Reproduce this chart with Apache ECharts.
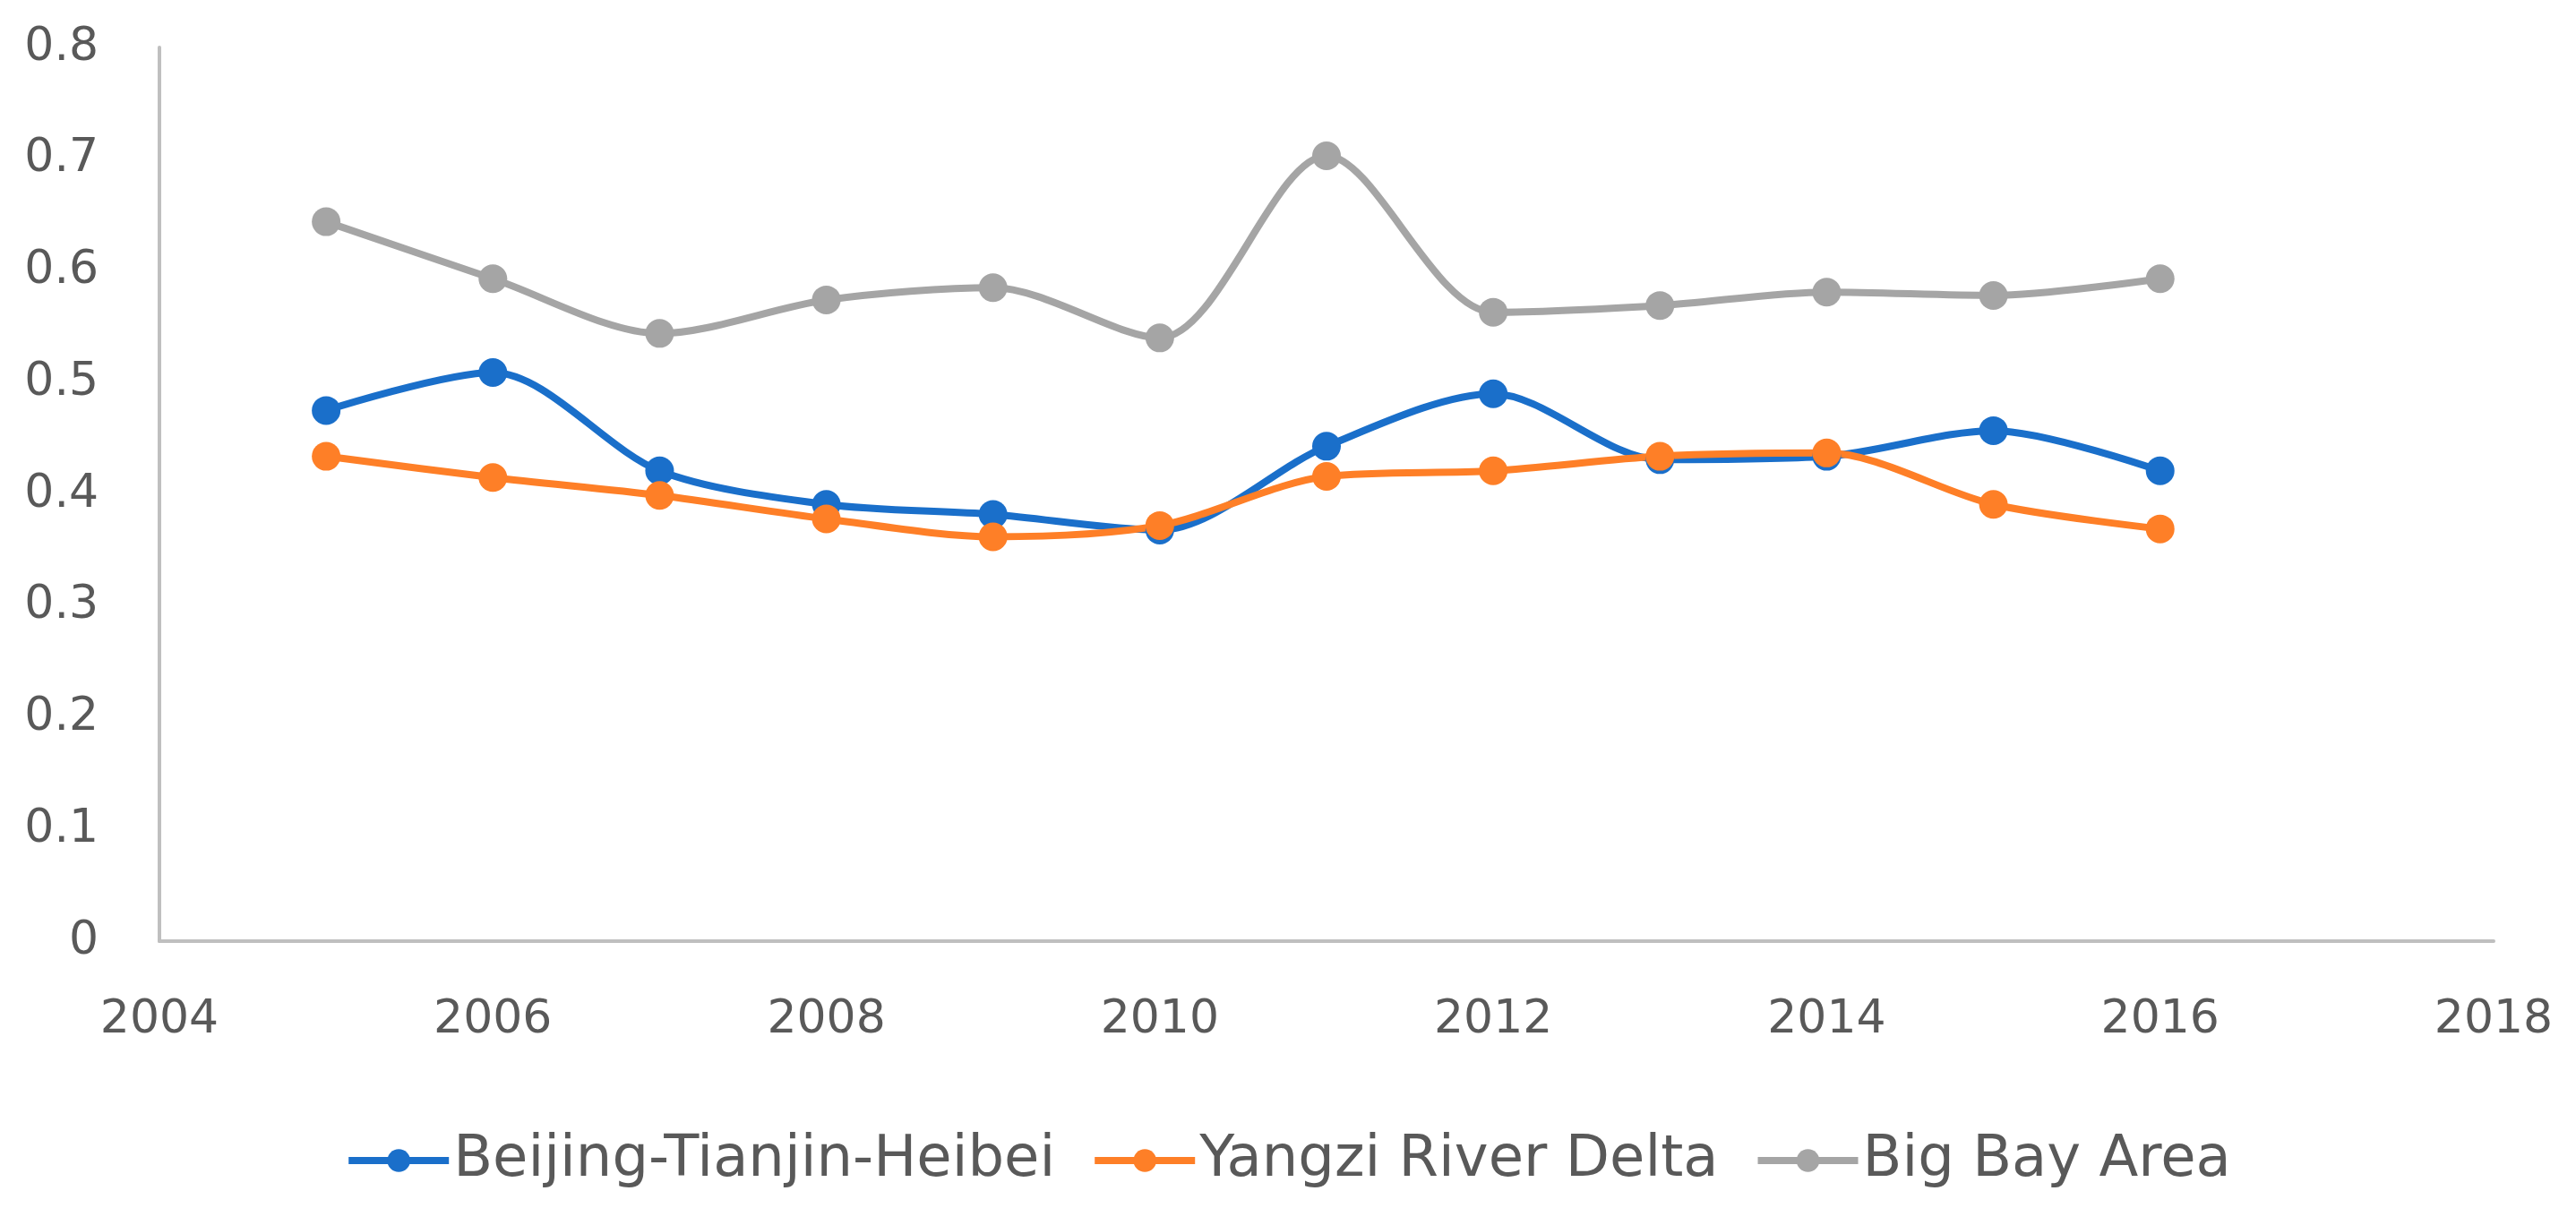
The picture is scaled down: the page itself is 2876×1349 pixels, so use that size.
<!DOCTYPE html>
<html>
<head>
<meta charset="utf-8">
<script src="https://cdn.jsdelivr.net/npm/echarts@6/dist/echarts.min.js"></script>
<style>
html,body{margin:0;padding:0;background:#fff;}
#chart{width:2876px;height:1349px;}
</style>
</head>
<body>
<div id="chart"></div>
<script>
const years = [2005, 2006, 2007, 2008, 2009, 2010, 2011, 2012, 2013, 2014, 2015, 2016];
const beijing = [0.475, 0.509, 0.421, 0.391, 0.382, 0.368, 0.443, 0.490, 0.431, 0.434, 0.457, 0.421];
const yangzi = [0.434, 0.415, 0.399, 0.378, 0.362, 0.372, 0.416, 0.421, 0.434, 0.437, 0.391, 0.369];
const bigBay = [0.644, 0.593, 0.544, 0.574, 0.585, 0.540, 0.703, 0.563, 0.569, 0.581, 0.578, 0.593];
const seriesNames = ['Beijing-Tianjin-Heibei', 'Yangzi River Delta', 'Big Bay Area'];
const colors = ['#1a6fca', '#fe7f27', '#a5a5a5'];

const font = 'DejaVu Sans';
const chart = echarts.init(document.getElementById('chart'));
const mk = (name, vals, color) => ({
  name: name,
  type: 'line',
  data: years.map((y, i) => [y, vals[i]]),
  smooth: 0.3,
  symbol: 'circle',
  symbolSize: 32,
  lineStyle: {width: 8, color: color},
  itemStyle: {color: color},
  emphasis: {disabled: true}
});
chart.setOption({
  animation: false,
  backgroundColor: '#fff',
  grid: {left: 178, right: 92, top: 53, bottom: 298, containLabel: false},
  legend: {
    bottom: 16, left: 'center',
    itemWidth: 112, itemHeight: 32, itemGap: 40,
    lineStyle: {width: 8},
    textStyle: {fontFamily: font, fontSize: 64, color: '#595959'},
    data: seriesNames
  },
  xAxis: {
    type: 'value', min: 2004, max: 2018, interval: 2,
    axisLine: {show: true, lineStyle: {color: '#bfbfbf', width: 4}},
    axisTick: {show: false},
    splitLine: {show: false},
    axisLabel: {fontFamily: font, fontSize: 52, color: '#595959', margin: 62,
      formatter: v => String(v)}
  },
  yAxis: {
    type: 'value', min: 0, max: 0.8, interval: 0.1,
    axisLine: {show: true, lineStyle: {color: '#bfbfbf', width: 4}},
    axisTick: {show: false},
    splitLine: {show: false},
    axisLabel: {fontFamily: font, fontSize: 52, color: '#595959', margin: 68,
      formatter: v => (Math.round(v * 10) / 10).toString()}
  },
  series: [
    mk(seriesNames[0], beijing, colors[0]),
    mk(seriesNames[1], yangzi, colors[1]),
    mk(seriesNames[2], bigBay, colors[2])
  ]
});
</script>
</body>
</html>
